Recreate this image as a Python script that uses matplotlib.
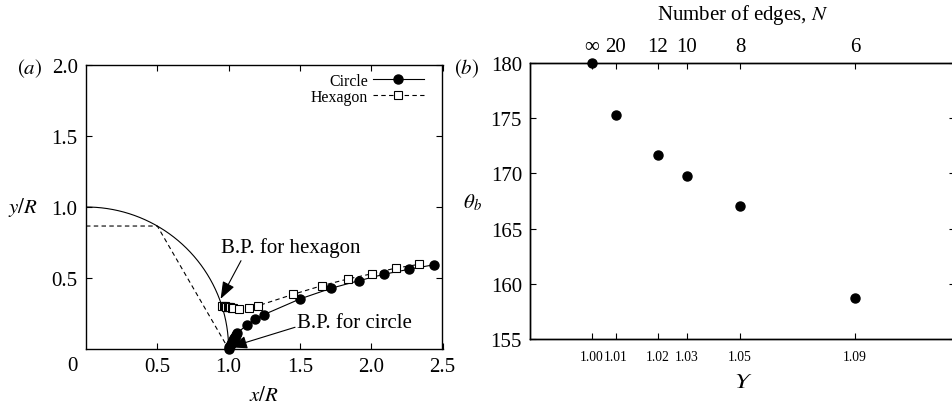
import numpy as np
import matplotlib
matplotlib.use("Agg")
import matplotlib.pyplot as plt

plt.rcParams['font.family'] = ['Liberation Serif', 'DejaVu Serif']
plt.rcParams['mathtext.fontset'] = 'stix'

# ---------------- data: panel (a) ----------------
circle_x = [1.000, 1.004, 1.009, 1.015, 1.021, 1.028, 1.035, 1.043, 1.052, 1.061,
            1.127, 1.187, 1.245, 1.502, 1.720, 1.914, 2.089, 2.262, 2.439]
circle_y = [0.000, 0.012, 0.024, 0.036, 0.048, 0.062, 0.075, 0.088, 0.100, 0.112,
            0.169, 0.208, 0.241, 0.353, 0.428, 0.481, 0.526, 0.561, 0.593]
hex_x = [0.957, 0.966, 0.975, 0.984, 0.993, 1.002, 1.012, 1.022, 1.032,
         1.073, 1.143, 1.208, 1.453, 1.654, 1.836, 2.005, 2.173, 2.336]
hex_y = [0.305, 0.303, 0.301, 0.299, 0.297, 0.295, 0.293, 0.291, 0.289,
         0.282, 0.287, 0.305, 0.385, 0.446, 0.493, 0.530, 0.570, 0.596]
hex_outline_x = [0.0, 0.5, 1.0]
hex_outline_y = [0.866, 0.866, 0.0]
a_xticks = [0.5, 1.0, 1.5, 2.0, 2.5]
a_xticklabels = ['0.5', '1.0', '1.5', '2.0', '2.5']
a_yticks = [0.5, 1.0, 1.5, 2.0]
a_yticklabels = ['0.5', '1.0', '1.5', '2.0']

# ---------------- data: panel (b) ----------------
upsilon = [1.0000, 1.0083, 1.0229, 1.0329, 1.0512, 1.0909]
upsilon_labels = ['1.00', '1.01', '1.02', '1.03', '1.05', '1.09']
n_edges_labels = ['\u221e', '20', '12', '10', '8', '6']
theta_b = [180.0, 175.24, 171.63, 169.76, 167.02, 158.73]
b_yticks = [155, 160, 165, 170, 175, 180]

W, H = 953, 410
fig = plt.figure(figsize=(W / 100, H / 100), dpi=100)

def px_axes(l, t, r, b):
    return fig.add_axes([l / W, 1 - b / H, (r - l) / W, (b - t) / H])

FS = 15
tick_kw = dict(direction='in', length=4.3, width=0.8, top=True, right=True)

# ---------------- panel (a) ----------------
ax = px_axes(86, 66, 442.5, 350)
theta = np.linspace(0, np.pi / 2, 200)
ax.plot(np.cos(theta), np.sin(theta), color='k', lw=0.8)
ax.plot(hex_outline_x, hex_outline_y, color='k', lw=0.8, ls=(0, (4, 3)))
lc, = ax.plot(circle_x, circle_y, color='k', lw=0.8, marker='o', ms=6.5,
              mfc='k', mec='k', clip_on=False)
lh, = ax.plot(hex_x, hex_y, color='k', lw=0.8, ls=(0, (4, 3)), marker='s', ms=5.5,
              mfc='white', mec='k', mew=0.8, clip_on=False)
ax.set_xlim(0, 2.5)
ax.set_ylim(0, 2.0)
ax.set_xticks(a_xticks)
ax.set_xticklabels(a_xticklabels)
ax.set_yticks(a_yticks)
ax.set_yticklabels(a_yticklabels)
ax.tick_params(labelsize=FS, pad=6, **tick_kw)
for s in ax.spines.values():
    s.set_linewidth(1.0)
ax.set_xlabel(r'$x/R$', fontsize=FS, va='center')
ax.xaxis.set_label_coords(0.5, -0.165)
ax.set_ylabel(r'$y/R$', fontsize=FS, rotation=0, ha='center', va='center')
ax.yaxis.set_label_coords(-0.177, 0.5)
fig.text(72 / W, 1 - 367 / H, '0', fontsize=FS, ha='center', va='center')
fig.text(29.5 / W, 1 - 69 / H, r'$(a)$', fontsize=FS, ha='center', va='center')

leg = ax.legend([lc, lh], ['Circle', 'Hexagon'], markerfirst=False, frameon=False,
                loc='upper right', bbox_to_anchor=(0.947, 0.972), borderpad=0,
                borderaxespad=0, fontsize=11.4, handlelength=3.2, handletextpad=0.3,
                labelspacing=0.0)

arrow_kw = dict(arrowstyle='-|>,head_length=0.75,head_width=0.28', lw=0.8,
                color='k', shrinkA=0, shrinkB=0, mutation_scale=14)
ax.annotate('', xy=(0.944, 0.353), xytext=(1.087, 0.622), arrowprops=arrow_kw)
ax.text(0.947, 0.718, 'B.P. for hexagon', fontsize=FS, ha='left', va='center')
ax.annotate('', xy=(1.01, 0.012), xytext=(1.466, 0.153), arrowprops=arrow_kw)
ax.text(1.48, 0.19, 'B.P. for circle', fontsize=FS, ha='left', va='center')

# ---------------- panel (b) ----------------
bx = px_axes(530.3, 63.7, 955, 340.3)
bx.plot(upsilon, theta_b, ls='none', marker='o', ms=6.5, color='k', clip_on=False)
bx.set_xlim(0.97881, 1.1254)
bx.set_ylim(155, 180)
bx.set_xticks(upsilon)
bx.set_xticklabels(upsilon_labels)
bx.set_yticks(b_yticks)
bx.tick_params(axis='y', labelsize=FS, pad=6, **tick_kw)
bx.tick_params(axis='x', labelsize=9.8, pad=8, direction='in', length=4.3,
               width=0.8, top=False, bottom=True)
for s in bx.spines.values():
    s.set_linewidth(1.0)
bx.set_xlabel('\U0001D6F6', fontsize=FS + 1, va='center',
              family=['STIXGeneral', 'DejaVu Serif', 'DejaVu Sans'])
bx.xaxis.set_label_coords(0.498, -0.154)
bx.set_ylabel(r'$\theta_b$', fontsize=FS, rotation=0, ha='center', va='center')
bx.yaxis.set_label_coords(-0.137, 0.496)

tx = bx.twiny()
tx.set_xlim(bx.get_xlim())
tx.set_xticks(upsilon)
tx.set_xticklabels(n_edges_labels)
tx.tick_params(axis='x', labelsize=FS, pad=5, direction='in', length=4.3, width=0.8)
tx.set_xlabel(r'Number of edges, $N$', fontsize=FS, va='center')
tx.xaxis.set_label_coords(0.5, 1.176)
for s in tx.spines.values():
    s.set_linewidth(1.0)
fig.text(467 / W, 1 - 69 / H, r'$(b)$', fontsize=FS, ha='center', va='center')

fig.savefig('out.png', dpi=100)
